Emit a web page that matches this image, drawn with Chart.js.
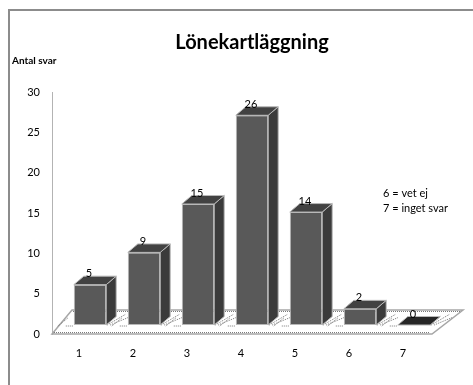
<!DOCTYPE html>
<html>
<head>
<meta charset="utf-8">
<script src="https://cdn.jsdelivr.net/npm/chart.js@4/dist/chart.umd.min.js"></script>
<style>
  html, body { margin: 0; padding: 0; background: #fff; }
  canvas { display: block; }
</style>
</head>
<body>
<canvas id="barChart" width="473" height="385"></canvas>
<script>
// survey answers per alternative
var categories = ["1", "2", "3", "4", "5", "6", "7"];
var answers = [5, 9, 15, 26, 14, 2, 0];
var yTicks = [0, 5, 10, 15, 20, 25, 30];
var chartTitle = "Lönekartläggning";
var axisTitle = "Antal svar";
var notes = ["6 = vet ej", "7 = inget svar"];

var FONT = "Lato, 'Open Sans', sans-serif";
// depth of the bars (front face pushed back onto the floor)
var SHIFT_X = 11, SHIFT_Y = 9;
var DEPTH_X = 10, DEPTH_Y = 8.5;

var box3d = {
	id: 'box3d',
	beforeDraw: function (chart) {
		var ctx = chart.ctx;
		ctx.save();
		ctx.fillStyle = '#fff';
		ctx.fillRect(0, 0, chart.width, chart.height);
		// frame
		ctx.strokeStyle = '#8c8c8c';
		ctx.lineWidth = 2;
		ctx.strokeRect(9, 10, chart.width + 20, chart.height + 20);
		// titles
		ctx.fillStyle = '#000';
		ctx.textBaseline = 'middle';
		ctx.textAlign = 'center';
		ctx.font = 'bold 20px ' + FONT;
		ctx.fillText(chartTitle, 252, 43);
		ctx.textAlign = 'left';
		ctx.font = 'bold 10px ' + FONT;
		ctx.fillText(axisTitle, 12, 61);
		ctx.font = '11px ' + FONT;
		ctx.fillText(notes[0], 383, 193);
		ctx.fillText(notes[1], 383, 208);
		ctx.restore();
	},
	beforeDatasetsDraw: function (chart) {
		var ctx = chart.ctx;
		var a = chart.chartArea;
		var y0 = chart.scales.y.getPixelForValue(0);
		// floor
		ctx.save();
		ctx.beginPath();
		ctx.moveTo(a.left, y0);
		ctx.lineTo(a.right + 2, y0);
		ctx.lineTo(a.right + 33, y0 - 24);
		ctx.lineTo(a.left + 20, y0 - 24);
		ctx.closePath();
		ctx.fillStyle = '#fff';
		ctx.fill();
		ctx.strokeStyle = '#a6a6a6';
		ctx.lineWidth = 1.5;
		ctx.stroke();
		ctx.setLineDash([1, 1]);
		ctx.strokeStyle = '#7a7a7a';
		ctx.lineWidth = 1;
		ctx.beginPath();
		ctx.moveTo(a.left + 2, y0 - 1.5);
		ctx.lineTo(a.right, y0 - 1.5);
		ctx.moveTo(a.left + 21, y0 - 22.5);
		ctx.lineTo(a.right + 31, y0 - 22.5);
		ctx.stroke();
		// dotted shadows around each bar foot
		var meta = chart.getDatasetMeta(0);
		meta.data.forEach(function (bar) {
			var x0 = bar.x - bar.width / 2 + SHIFT_X;
			var x1 = bar.x + bar.width / 2 + SHIFT_X;
			var yb = bar.base - SHIFT_Y;
			ctx.beginPath();
			ctx.moveTo(x0 - 16, yb + 1);
			ctx.lineTo(x0 - 6, yb - 7);
			ctx.moveTo(x0 - 8, yb + 1);
			ctx.lineTo(x0 - 1, yb + 1);
			ctx.moveTo(x1 + 1, yb);
			ctx.lineTo(x1 + DEPTH_X + 9, yb - DEPTH_Y - 2);
			ctx.moveTo(x1 + 4, yb);
			ctx.lineTo(x1 + DEPTH_X + 12, yb - DEPTH_Y + 1);
			ctx.stroke();
		});
		ctx.restore();
		ctx.save();
		ctx.translate(SHIFT_X, -SHIFT_Y);
	},
	afterDatasetsDraw: function (chart) {
		var ctx = chart.ctx;
		var meta = chart.getDatasetMeta(0);
		ctx.lineWidth = 1;
		ctx.strokeStyle = '#b8b8b8';
		meta.data.forEach(function (bar, i) {
			var x0 = bar.x - bar.width / 2;
			var x1 = bar.x + bar.width / 2;
			var yt = bar.y;
			var yb = bar.base;
			// side face
			ctx.beginPath();
			ctx.moveTo(x1, yt);
			ctx.lineTo(x1 + DEPTH_X, yt - DEPTH_Y);
			ctx.lineTo(x1 + DEPTH_X, yb - DEPTH_Y);
			ctx.lineTo(x1, yb);
			ctx.closePath();
			ctx.fillStyle = '#3b3b3b';
			ctx.fill();
			ctx.stroke();
			// top face
			ctx.beginPath();
			ctx.moveTo(x0, yt);
			ctx.lineTo(x1, yt);
			ctx.lineTo(x1 + DEPTH_X, yt - DEPTH_Y);
			ctx.lineTo(x0 + DEPTH_X, yt - DEPTH_Y);
			ctx.closePath();
			ctx.fillStyle = answers[i] === 0 ? '#262626' : '#424242';
			ctx.fill();
			ctx.stroke();
			// value label
			ctx.fillStyle = '#000';
			ctx.font = '11px ' + FONT;
			ctx.textAlign = 'center';
			ctx.textBaseline = 'middle';
			ctx.fillText(String(answers[i]), bar.x - 1, yt - 11);
		});
		ctx.restore();
	}
};

var ctxB = document.getElementById("barChart").getContext('2d');
var myBarChart = new Chart(ctxB, {
	type: 'bar',
	data: {
		labels: categories,
		datasets: [{
			label: axisTitle,
			data: answers,
			backgroundColor: '#595959',
			borderColor: '#b8b8b8',
			borderWidth: 1,
			borderSkipped: false,
			categoryPercentage: 1,
			barPercentage: 0.6,
			clip: false
		}]
	},
	options: {
		responsive: false,
		animation: false,
		devicePixelRatio: 1,
		layout: { padding: { top: 92, right: 43, left: 0, bottom: 0 } },
		plugins: {
			legend: { display: false },
			tooltip: { enabled: false }
		},
		scales: {
			x: {
				grid: { display: false, drawTicks: false },
				border: { display: false },
				ticks: { color: '#000', font: { family: FONT, size: 11 }, padding: 13 },
				afterFit: function (scale) { scale.height = 51; }
			},
			y: {
				min: 0,
				max: 30,
				afterBuildTicks: function (scale) {
					scale.ticks = yTicks.map(function (v) { return { value: v }; });
				},
				grid: { display: false, drawTicks: false },
				border: { display: true, color: '#b3b3b3', width: 1 },
				ticks: { color: '#000', font: { family: FONT, size: 11 }, padding: 12 },
				afterFit: function (scale) { scale.width = 52; }
			}
		}
	},
	plugins: [box3d]
});
</script>
</body>
</html>
